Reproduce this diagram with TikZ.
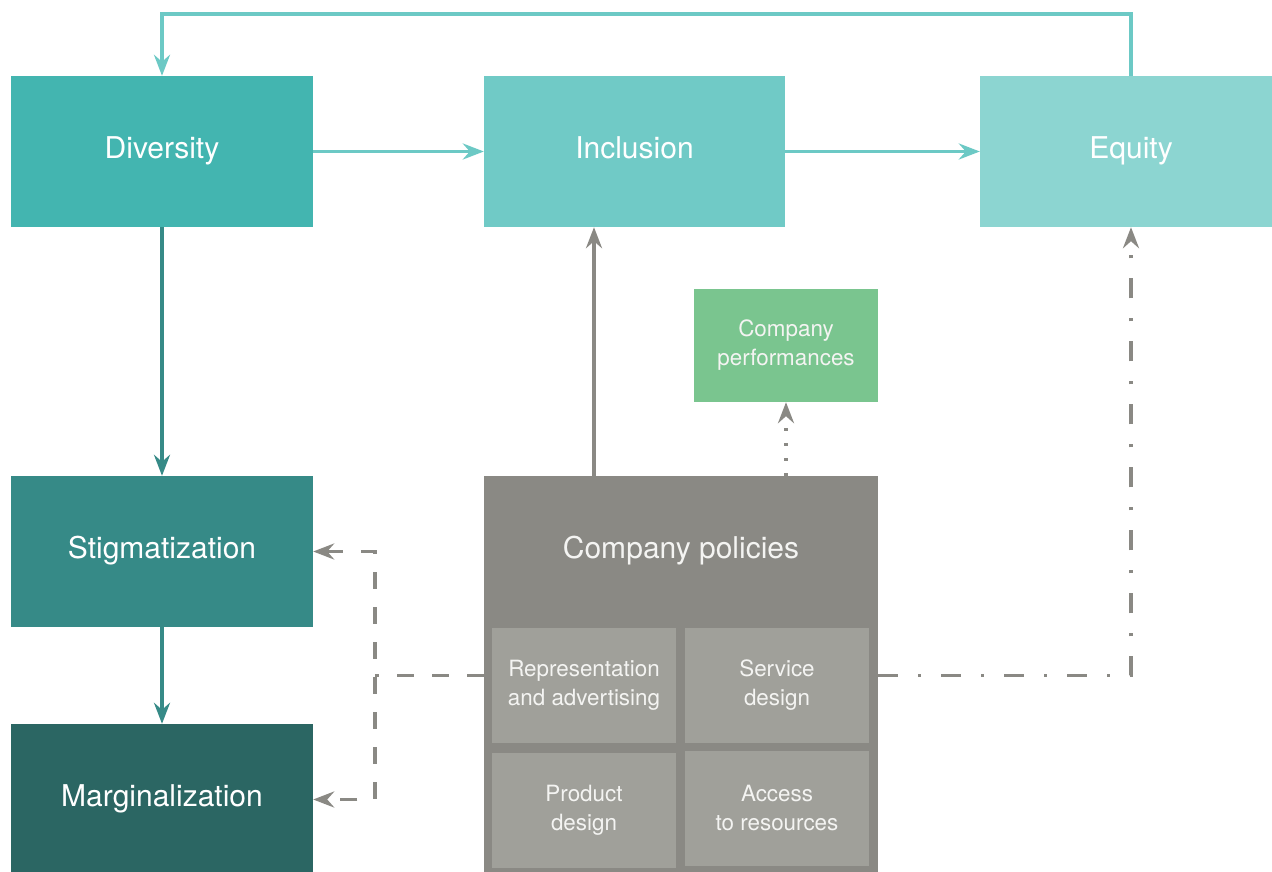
\documentclass[tikz,border=0pt]{standalone}
\usepackage{fontspec}
\setmainfont{TeX Gyre Heros}
\usetikzlibrary{arrows.meta}
\definecolor{cdiv}{HTML}{43B5B0}
\definecolor{cinc}{HTML}{70CAC6}
\definecolor{ceq}{HTML}{8CD5D1}
\definecolor{cstig}{HTML}{368A87}
\definecolor{cmarg}{HTML}{2B6663}
\definecolor{cperf}{HTML}{7AC58F}
\definecolor{cpol}{HTML}{8A8984}
\definecolor{csub}{HTML}{A0A09A}
\definecolor{carr}{HTML}{6CC9C5}
\definecolor{cgray}{HTML}{8A8984}
\definecolor{ctext}{HTML}{F4F4F2}
\tikzset{
  bigbox/.style={rectangle, inner sep=0pt, minimum width=302pt, minimum height=151pt, text=white, font=\fontsize{30}{34}\selectfont, text height=14.6pt, text depth=0pt},
  subbox/.style={rectangle, fill=csub, inner sep=0pt, minimum width=184pt, minimum height=115pt, text=ctext, align=center, font=\fontsize{22.4}{29}\selectfont},
  tip/.style={-{Stealth[length=21pt,width=16pt,inset=7pt]}},
  conn/.style={line width=3.6pt},
  gd/.style={conn, cgray, dash pattern=on 17pt off 18pt},
  gdd/.style={conn, cgray, dash pattern=on 20pt off 20pt on 3pt off 20pt},
  gdot/.style={conn, cgray, dash pattern=on 3pt off 12pt},
}
\begin{document}
\begin{tikzpicture}[x=1pt,y=-1pt]
\useasboundingbox (0,0) rectangle (1272,872);
\fill[white] (0,0) rectangle (1272,872);
\node[bigbox, fill=cdiv] (div) at (162,151.5) {Diversity};
\node[bigbox, fill=cinc, minimum width=301pt] (inc) at (634.5,151.5) {Inclusion};
\node[bigbox, fill=ceq] (eq) at (1131,151.5) {Equity};
\node[bigbox, fill=cstig] (stig) at (162,551.5) {Stigmatization};
\node[bigbox, fill=cmarg] (marg) at (162,799.5) {Marginalization};
\node[rectangle, fill=cperf, inner sep=0pt, minimum width=184pt, minimum height=113pt, text=ctext, align=center, font=\fontsize{22.4}{29}\selectfont] (perf) at (786,345.5) {Company\\performances};
\node[rectangle, fill=cpol, inner sep=0pt, minimum width=394pt, minimum height=399pt] (pol) at (681,675.5) {};
\node[text=ctext, inner sep=0pt, font=\fontsize{30}{34}\selectfont, text height=14.6pt, text depth=0pt] (poltitle) at (681,551) {Company policies};
\node[subbox] (rep) at (584,685.5) {Representation\\and advertising};
\node[subbox] (serv) at (777,685.5) {Service\\design};
\node[subbox] (prod) at (584,810) {Product\\design};
\node[subbox] (acc) at (777,808) {Access\\to resources};
\coordinate (topy) at (0,14);
\coordinate (pin) at (594,476);
\coordinate (jl) at (375,675.5);
% teal connectors
\draw[conn, carr, tip] (eq.north) -- (eq.north |- topy) -| (div.north);
\draw[conn, carr, tip] (div.east) -- (inc.west);
\draw[conn, carr, tip] (inc.east) -- (eq.west);
\draw[conn, cstig, tip] (div.south) -- (stig.north);
\draw[conn, cstig, tip] (stig.south) -- (marg.north);
% gray connectors
\draw[conn, cgray, tip] (pin) -- (pin |- inc.south);
\draw[gdot, tip] (pol.north -| perf.south) -- (perf.south);
\draw[gd, {Stealth[length=21pt,width=16pt,inset=7pt]}-{Stealth[length=21pt,width=16pt,inset=7pt]}] (stig.east) -| (jl) |- (marg.east);
\draw[gd] (pol.west) -- (jl);
\draw[gdd, tip] (pol.east) -| (eq.south);
\end{tikzpicture}
\end{document}
